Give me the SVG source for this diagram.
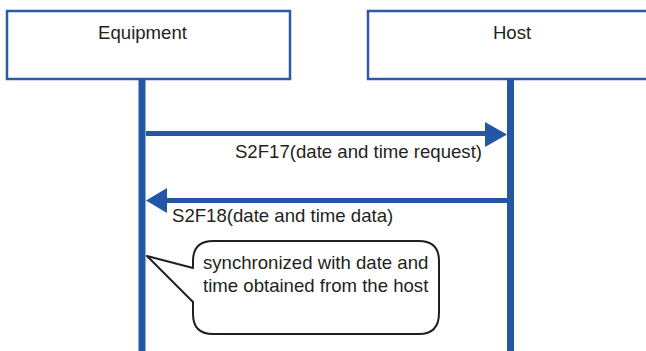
<svg xmlns="http://www.w3.org/2000/svg" width="646" height="351" viewBox="0 0 646 351">
<style>
.box{fill:#fff;stroke:#2b5ba8;stroke-width:2.5}
.life{stroke:#2456a6;stroke-width:7;fill:none}
.msg{stroke:#2456a6;stroke-width:5;fill:none}
.head{fill:#2456a6}
text{font-family:"Liberation Sans",Arial,sans-serif;font-size:18.6px;fill:#231f20}
.callout{fill:#fff;stroke:#231f20;stroke-width:2;stroke-linejoin:round}
</style>
<rect width="646" height="351" fill="#fff"/>
<g id="equipment">
<rect class="box" x="7" y="11" width="283" height="68"/>
<text x="142.5" y="39" text-anchor="middle">Equipment</text>
</g>
<g id="host">
<path class="box" d="M660,11 H368 V79 H660"/>
<text x="512" y="39" text-anchor="middle">Host</text>
</g>
<g id="connectors">
<line class="life" x1="142" y1="79" x2="142" y2="351"/>
<line class="life" x1="510.5" y1="79" x2="510.5" y2="351"/>
<line class="msg" x1="146" y1="133.5" x2="487" y2="133.5"/>
<polygon class="head" points="485,122 485,147 507,134.5"/>
<line class="msg" x1="165" y1="200.5" x2="507" y2="200.5"/>
<polygon class="head" points="167,188 167,213 146,200.5"/>
<text x="482" y="158" text-anchor="end">S2F17(date and time request)</text>
<text x="172" y="222">S2F18(date and time data)</text>
</g>
<g id="note">
<path class="callout" d="M147,256 L193,268 L193,261 Q193,241 213,241 L419,241 Q439,241 439,261 L439,313 Q439,334 419,334 L213,334 Q193,334 193,314 L193,302 Z"/>
<text x="203" y="269">synchronized with date and</text>
<text x="203" y="292">time obtained from the host</text>
</g>
</svg>
